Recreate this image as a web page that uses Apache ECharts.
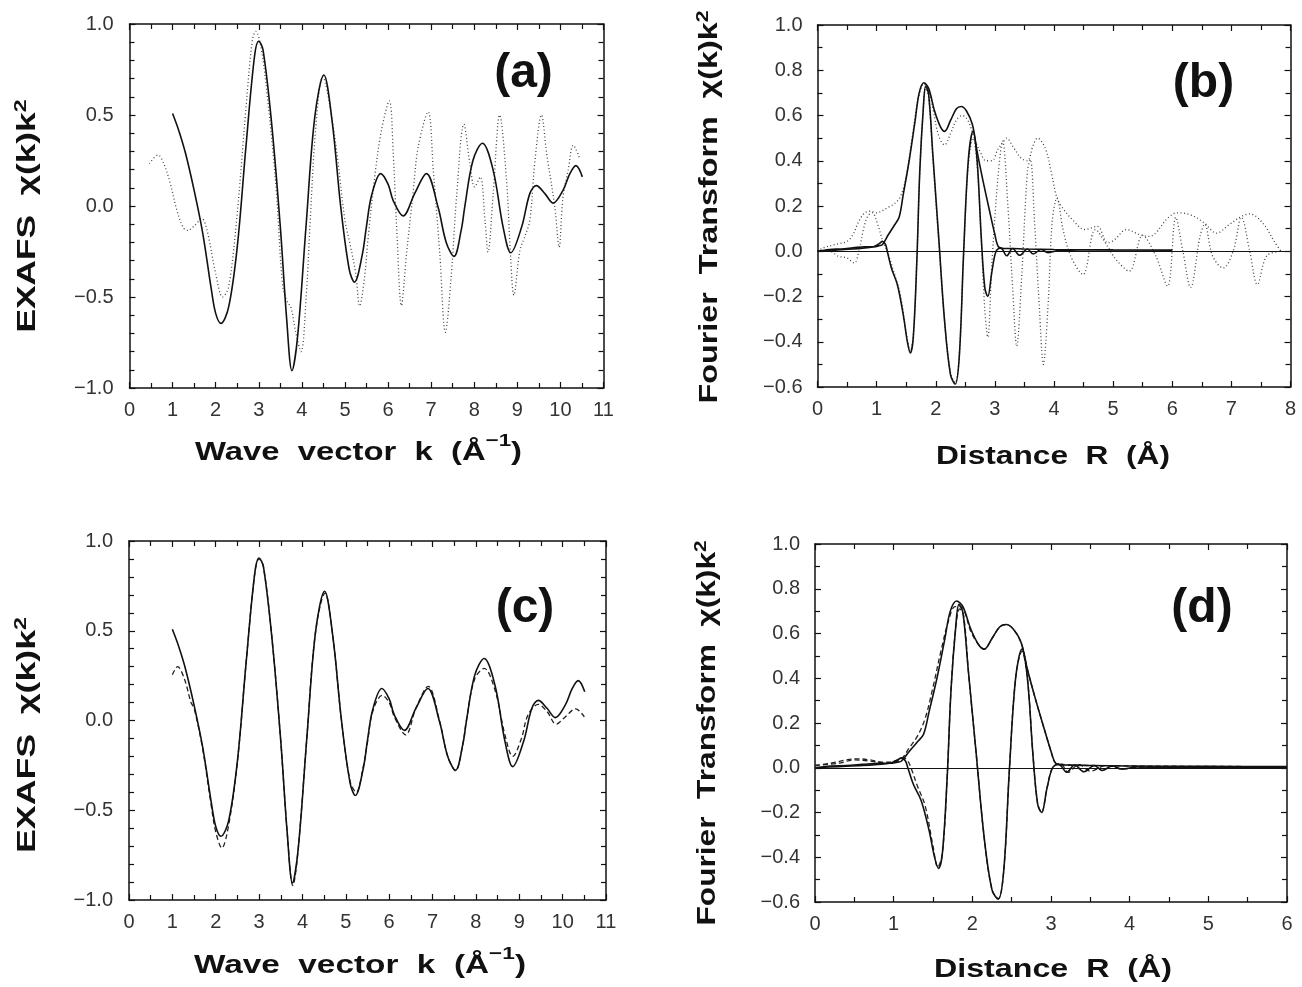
<!DOCTYPE html>
<html>
<head>
<meta charset="utf-8">
<title>EXAFS and Fourier transform</title>
<script src="https://cdn.jsdelivr.net/npm/echarts@6.0.0/dist/echarts.min.js"></script>
<style>
html, body { margin: 0; padding: 0; background: #fff; }
#main { width: 1302px; height: 987px; }
</style>
</head>
<body>
<div id="main"></div>
<script>
// k-space EXAFS, fit (solid), raw data (dotted), filtered data (dashed)
var exafsFit = [[1.0,0.508],[1.15,0.41],[1.3,0.29],[1.5,0.086],[1.7,-0.15],[1.9,-0.46],[2.0,-0.59],[2.12,-0.645],[2.3,-0.556],[2.5,-0.226],[2.7,0.32],[2.9,0.82],[3.0,0.905],[3.1,0.857],[3.3,0.45],[3.5,-0.115],[3.65,-0.63],[3.77,-0.905],[3.9,-0.72],[4.1,-0.1],[4.3,0.49],[4.51,0.72],[4.7,0.47],[4.9,0.0],[5.1,-0.35],[5.22,-0.418],[5.4,-0.27],[5.5,-0.11],[5.62,0.06],[5.83,0.178],[6.0,0.12],[6.12,0.03],[6.35,-0.055],[6.62,0.07],[6.89,0.178],[7.16,-0.006],[7.35,-0.2],[7.53,-0.277],[7.7,-0.13],[7.78,-0.005],[7.97,0.25],[8.19,0.345],[8.44,0.196],[8.67,-0.116],[8.85,-0.257],[9.1,-0.116],[9.29,0.068],[9.44,0.112],[9.64,0.068],[9.83,0.016],[10.06,0.086],[10.22,0.178],[10.36,0.222],[10.51,0.16]];
var exafsRaw = [[0.46,0.233],[0.66,0.28],[0.8,0.23],[0.95,0.12],[1.1,-0.024],[1.25,-0.12],[1.35,-0.134],[1.5,-0.11],[1.68,-0.07],[1.8,-0.134],[2.0,-0.37],[2.16,-0.5],[2.3,-0.446],[2.5,-0.04],[2.7,0.53],[2.85,0.91],[2.93,0.96],[3.05,0.875],[3.2,0.6],[3.4,0.105],[3.55,-0.43],[3.65,-0.52],[3.75,-0.56],[3.85,-0.685],[3.98,-0.8],[4.1,-0.5],[4.2,-0.05],[4.32,0.42],[4.48,0.71],[4.75,0.4],[5.0,-0.08],[5.1,-0.19],[5.25,-0.37],[5.34,-0.55],[5.45,-0.4],[5.54,-0.17],[5.69,0.16],[5.85,0.42],[6.03,0.578],[6.12,0.29],[6.21,-0.17],[6.31,-0.547],[6.43,-0.26],[6.58,0.07],[6.7,0.325],[6.93,0.517],[7.05,0.196],[7.2,-0.26],[7.33,-0.694],[7.47,-0.372],[7.59,0.05],[7.76,0.45],[7.9,0.233],[8.01,0.105],[8.14,0.16],[8.25,-0.08],[8.32,-0.253],[8.44,0.068],[8.59,0.5],[8.75,0.14],[8.84,-0.26],[8.92,-0.49],[9.06,-0.244],[9.17,-0.17],[9.29,-0.08],[9.41,0.25],[9.56,0.5],[9.68,0.29],[9.87,-0.005],[9.97,-0.226],[10.06,0.05],[10.18,0.196],[10.3,0.334],[10.45,0.26]];
var exafsFiltered = [[1.0,0.255],[1.12,0.3],[1.28,0.23],[1.43,0.1],[1.5,0.07],[1.7,-0.16],[1.9,-0.48],[2.0,-0.62],[2.14,-0.71],[2.3,-0.58],[2.5,-0.23],[2.7,0.32],[2.9,0.82],[3.0,0.9],[3.1,0.857],[3.3,0.45],[3.5,-0.115],[3.65,-0.63],[3.78,-0.92],[3.9,-0.72],[4.1,-0.1],[4.3,0.49],[4.52,0.71],[4.7,0.47],[4.9,0.0],[5.1,-0.34],[5.24,-0.4],[5.4,-0.26],[5.5,-0.12],[5.62,0.05],[5.84,0.14],[6.0,0.1],[6.12,0.02],[6.38,-0.08],[6.62,0.07],[6.9,0.19],[7.16,0.0],[7.35,-0.2],[7.53,-0.28],[7.7,-0.13],[7.78,0.0],[7.97,0.23],[8.19,0.29],[8.44,0.17],[8.67,-0.08],[8.85,-0.2],[9.05,-0.1],[9.2,0.03],[9.44,0.09],[9.64,0.05],[9.85,-0.02],[10.06,0.02],[10.3,0.065],[10.5,0.02]];

// R-space Fourier transform: magnitude and imaginary part
var ftFitMag = [[0,0.0],[0.2,0.008],[0.4,0.01],[0.6,0.015],[0.8,0.02],[0.95,0.02],[1.05,0.025],[1.1,0.03],[1.2,0.074],[1.3,0.115],[1.38,0.15],[1.45,0.25],[1.55,0.4],[1.65,0.575],[1.72,0.7],[1.8,0.745],[1.88,0.72],[1.98,0.62],[2.08,0.55],[2.15,0.53],[2.25,0.578],[2.35,0.63],[2.43,0.64],[2.52,0.62],[2.62,0.56],[2.7,0.44],[2.8,0.31],[2.9,0.19],[3.0,0.074],[3.06,0.02],[3.15,0.012],[3.3,0.012],[3.5,0.01],[4.0,0.008],[5.0,0.006],[6.0,0.005]];
var ftFitIm = [[0,0.0],[0.3,0.005],[0.6,0.01],[0.8,0.015],[0.95,0.02],[1.05,0.035],[1.1,0.044],[1.15,0.03],[1.18,0.0],[1.25,-0.074],[1.35,-0.147],[1.45,-0.28],[1.52,-0.4],[1.57,-0.45],[1.62,-0.38],[1.68,-0.044],[1.73,0.354],[1.79,0.634],[1.83,0.73],[1.88,0.693],[1.95,0.43],[2.05,0.06],[2.15,-0.31],[2.25,-0.546],[2.33,-0.587],[2.4,-0.457],[2.47,-0.015],[2.55,0.4],[2.63,0.53],[2.7,0.4],[2.77,0.06],[2.83,-0.162],[2.88,-0.2],[2.95,-0.09],[3.02,0.0],[3.1,0.015],[3.2,-0.02],[3.3,0.012],[3.42,-0.018],[3.55,0.01],[3.65,-0.012],[3.78,0.008],[3.9,-0.006],[4.1,0.004],[4.5,0.0],[6.0,0.0]];
var ftRawMag = [[0,0.0],[0.1,0.015],[0.3,0.03],[0.5,0.044],[0.6,0.074],[0.7,0.133],[0.8,0.17],[0.9,0.177],[1.0,0.17],[1.1,0.18],[1.2,0.195],[1.3,0.21],[1.4,0.24],[1.5,0.33],[1.6,0.5],[1.7,0.67],[1.8,0.74],[1.88,0.71],[1.96,0.62],[2.05,0.51],[2.15,0.47],[2.25,0.52],[2.35,0.58],[2.45,0.6],[2.55,0.575],[2.65,0.5],[2.75,0.44],[2.85,0.4],[2.95,0.4],[3.05,0.45],[3.15,0.487],[3.2,0.5],[3.3,0.465],[3.45,0.41],[3.55,0.4],[3.65,0.47],[3.72,0.5],[3.85,0.457],[3.95,0.354],[4.05,0.236],[4.15,0.19],[4.31,0.14],[4.52,0.096],[4.73,0.11],[4.91,0.037],[5.02,0.05],[5.23,0.096],[5.44,0.074],[5.62,0.066],[5.72,0.08],[5.9,0.14],[6.08,0.17],[6.32,0.16],[6.54,0.125],[6.75,0.08],[6.96,0.117],[7.17,0.154],[7.31,0.165],[7.53,0.125],[7.74,0.037],[7.84,0.0]];
var ftRawIm = [[0,0.0],[0.2,0.0],[0.35,-0.022],[0.5,-0.03],[0.62,-0.052],[0.7,0.0],[0.78,0.1],[0.85,0.155],[0.93,0.17],[1.0,0.133],[1.1,0.05],[1.2,-0.015],[1.3,-0.1],[1.4,-0.19],[1.5,-0.36],[1.57,-0.44],[1.62,-0.37],[1.68,-0.04],[1.73,0.35],[1.79,0.63],[1.83,0.72],[1.88,0.68],[1.95,0.42],[2.05,0.05],[2.15,-0.31],[2.25,-0.54],[2.33,-0.58],[2.4,-0.45],[2.47,-0.02],[2.55,0.38],[2.63,0.5],[2.7,0.38],[2.77,0.05],[2.83,-0.26],[2.88,-0.38],[2.95,-0.05],[3.05,0.32],[3.13,0.487],[3.22,0.2],[3.3,-0.16],[3.37,-0.42],[3.45,-0.13],[3.55,0.354],[3.6,0.405],[3.67,0.133],[3.75,-0.236],[3.82,-0.5],[3.9,-0.236],[3.97,0.133],[4.05,0.236],[4.15,0.1],[4.28,-0.02],[4.49,-0.103],[4.7,0.096],[4.91,0.02],[5.05,-0.037],[5.27,-0.088],[5.5,0.07],[5.72,-0.02],[5.92,-0.154],[6.06,0.15],[6.18,0.0],[6.31,-0.16],[6.47,0.066],[6.55,0.12],[6.68,-0.02],[6.86,-0.074],[7.03,0.0],[7.17,0.15],[7.31,0.0],[7.44,-0.147],[7.6,-0.02],[7.84,0.0]];
var ftFilteredMag = [[0,0.01],[0.2,0.02],[0.4,0.035],[0.55,0.04],[0.7,0.035],[0.85,0.025],[1.0,0.025],[1.1,0.04],[1.2,0.09],[1.3,0.14],[1.4,0.22],[1.5,0.36],[1.6,0.52],[1.7,0.66],[1.78,0.72],[1.85,0.72],[1.9,0.7],[1.98,0.61],[2.08,0.55],[2.15,0.53],[2.25,0.578],[2.35,0.63],[2.43,0.64],[2.52,0.62],[2.62,0.56],[2.7,0.44],[2.8,0.31],[2.9,0.19],[3.0,0.074],[3.06,0.02],[3.15,0.015],[3.3,0.01],[3.5,0.01],[4.0,0.008],[5.0,0.006],[6.0,0.005]];
var ftFilteredIm = [[0,0.01],[0.3,0.02],[0.5,0.035],[0.7,0.03],[0.9,0.02],[1.05,0.035],[1.12,0.045],[1.18,0.03],[1.22,0.0],[1.3,-0.08],[1.4,-0.17],[1.5,-0.35],[1.56,-0.445],[1.62,-0.38],[1.68,-0.044],[1.73,0.354],[1.79,0.63],[1.84,0.71],[1.89,0.68],[1.95,0.43],[2.05,0.06],[2.15,-0.31],[2.25,-0.546],[2.33,-0.585],[2.4,-0.457],[2.47,-0.015],[2.55,0.4],[2.63,0.52],[2.7,0.4],[2.77,0.06],[2.83,-0.16],[2.88,-0.2],[2.95,-0.09],[3.02,0.0],[3.12,0.02],[3.22,-0.02],[3.35,0.015],[3.5,-0.015],[3.7,0.01],[3.9,-0.005],[4.2,0.003],[6.0,0.0]];

// axis ranges: [min, max, interval]
var kTicks = [0, 11, 1];
var exafsTicks = [-1, 1, 0.5];
var rTicksWide = [0, 8, 1];
var rTicksNarrow = [0, 6, 1];
var ftTicks = [-0.6, 1.0, 0.2];

var FONT = 'Liberation Sans';
var INK = '#111';

function yFmt(v) {
	if (Math.abs(v) < 1e-9) return '0.0';
	return (v < 0 ? '\u2212' : '') + Math.abs(v).toFixed(1);
}
function makeAxis(grid, pos, t, labels, minorSplit, margin, fmt) {
	return {
		type: 'value', gridIndex: grid, position: pos,
		min: t[0], max: t[1], interval: t[2],
		axisLine: { show: true, onZero: false, lineStyle: { color: INK, width: 1.5 } },
		axisTick: { show: true, inside: true, length: 6, lineStyle: { color: INK, width: 1.2 } },
		minorTick: { show: true, splitNumber: minorSplit, length: 5, lineStyle: { color: INK, width: 1.2 } },
		splitLine: { show: false },
		minorSplitLine: { show: false },
		axisLabel: { show: labels, margin: margin, fontSize: 20, fontFamily: FONT, color: '#333', formatter: fmt }
	};
}
function line(data, g, style) {
	return {
		type: 'line', xAxisIndex: 2 * g, yAxisIndex: 2 * g, data: data,
		showSymbol: false, symbol: 'none', smooth: 0.35, silent: true,
		lineStyle: style
	};
}
var solid = { color: INK, width: 1.6, type: 'solid' };
var dotted = { color: '#444', width: 1.3, type: [1, 2.5] };
var dashed = { color: '#222', width: 1.3, type: [5, 3] };
var zeroLine = {
	silent: true, symbol: ['none', 'none'], label: { show: false },
	lineStyle: { type: 'solid', color: INK, width: 1.2 }, data: [{ yAxis: 0 }]
};

// axis titles: main text plus a bold superscript, stretched to the measured length
var measure = document.createElement('canvas').getContext('2d');
function textWidth(text, size) {
	measure.font = 'bold ' + size + 'px "' + FONT + '"';
	return measure.measureText(text).width;
}
function title(head, sup, tail, x, y, size, supSize, lh, len, vertical) {
	var w = textWidth(head + tail, size) + textWidth(sup, supSize);
	return {
		type: 'text', x: x, y: y, silent: true,
		rotation: vertical ? Math.PI / 2 : 0,
		scaleX: len / w,
		style: {
			text: head + '{s|' + sup + '}' + tail,
			fontSize: size, fontWeight: 'bold', fontFamily: FONT, fill: INK, lineHeight: lh,
			textAlign: 'center', textVerticalAlign: 'middle', align: 'center', verticalAlign: 'middle',
			rich: { s: { fontSize: supSize, fontWeight: 'bold', fontFamily: FONT, fill: INK, lineHeight: supSize, verticalAlign: 'top' } }
		}
	};
}
function tag(text, x, y) {
	return {
		type: 'text', x: x, y: y, silent: true,
		style: { text: text, fontSize: 48, fontWeight: 'bold', fontFamily: FONT, fill: INK,
			textAlign: 'center', textVerticalAlign: 'middle', align: 'center', verticalAlign: 'middle' }
	};
}

var option = {
	backgroundColor: '#fff',
	animation: false,
	grid: [
		{ left: 129.5, top: 24, width: 474, height: 364, outerBoundsMode: 'none' },
		{ left: 817.5, top: 25, width: 473, height: 362, outerBoundsMode: 'none' },
		{ left: 129, top: 541, width: 477, height: 359, outerBoundsMode: 'none' },
		{ left: 815, top: 544, width: 472, height: 358, outerBoundsMode: 'none' }
	],
	xAxis: [
		makeAxis(0, 'bottom', kTicks, true, 2, 12), makeAxis(0, 'top', kTicks, false, 2, 8),
		makeAxis(1, 'bottom', rTicksWide, true, 2, 12), makeAxis(1, 'top', rTicksWide, false, 2, 8),
		makeAxis(2, 'bottom', kTicks, true, 2, 12), makeAxis(2, 'top', kTicks, false, 2, 8),
		makeAxis(3, 'bottom', rTicksNarrow, true, 2, 12), makeAxis(3, 'top', rTicksNarrow, false, 2, 8)
	],
	yAxis: [
		makeAxis(0, 'left', exafsTicks, true, 5, 16, yFmt), makeAxis(0, 'right', exafsTicks, false, 5, 8),
		makeAxis(1, 'left', ftTicks, true, 2, 15, yFmt), makeAxis(1, 'right', ftTicks, false, 2, 8),
		makeAxis(2, 'left', exafsTicks, true, 5, 16, yFmt), makeAxis(2, 'right', exafsTicks, false, 5, 8),
		makeAxis(3, 'left', ftTicks, true, 2, 15, yFmt), makeAxis(3, 'right', ftTicks, false, 2, 8)
	],
	series: [
		line(exafsRaw, 0, dotted),
		line(exafsFit, 0, solid),
		line(ftRawMag, 1, dotted),
		line(ftRawIm, 1, dotted),
		Object.assign(line(ftFitMag, 1, solid), { markLine: zeroLine }),
		line(ftFitIm, 1, solid),
		line(exafsFiltered, 2, dashed),
		line(exafsFit, 2, solid),
		line(ftFilteredMag, 3, dashed),
		line(ftFilteredIm, 3, dashed),
		Object.assign(line(ftFitMag, 3, solid), { markLine: zeroLine }),
		line(ftFitIm, 3, solid)
	],
	graphic: [
		title('Wave  vector  k  (\u00c5', '\u22121', ')', 358.5, 453, 25, 17, 40, 327, false),
		title('Distance  R  (\u00c5)', '', '', 1053, 457, 25, 17, 25, 234, false),
		title('Wave  vector  k  (\u00c5', '\u22121', ')', 360, 966, 25, 17, 40, 332, false),
		title('Distance  R  (\u00c5)', '', '', 1053, 970, 25, 17, 25, 238, false),
		title('EXAFS  \u03c7(k)k', '2', '', 28, 216, 26, 17, 31, 233, true),
		title('Fourier  Transform  \u03c7(k)k', '2', '', 710, 207, 26, 17, 31, 393, true),
		title('EXAFS  \u03c7(k)k', '2', '', 28, 735, 26, 17, 31, 236, true),
		title('Fourier  Transform  \u03c7(k)k', '2', '', 708, 733, 26, 17, 31, 385, true),
		tag('(a)', 523.5, 74),
		tag('(b)', 1203.5, 84),
		tag('(c)', 525, 609),
		tag('(d)', 1202, 609)
	]
};

var myChart = echarts.init(document.getElementById('main'));
myChart.setOption(option, true);
</script>
</body>
</html>
